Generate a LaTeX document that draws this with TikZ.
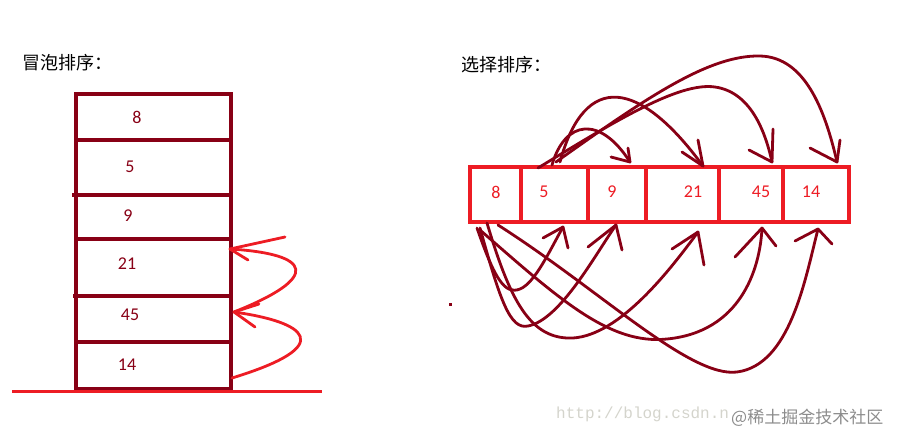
\documentclass[tikz,border=0pt]{standalone}
\usepackage{fontspec}
\setmainfont{Carlito}
\newfontfamily\cjkfont{Noto Sans CJK SC}
\newfontfamily\wmfont{Liberation Mono}
\definecolor{dred}{HTML}{880015}
\definecolor{pred}{HTML}{ED1C24}
\begin{document}
\begin{tikzpicture}[x=1pt,y=-1pt,
  stk/.style={draw=dred, line width=3.4pt},
  box/.style={draw=pred, line width=3.2pt},
  arr/.style={draw=dred, line width=2.8pt, line cap=round, line join=round},
  rarr/.style={draw=pred, line width=2.8pt, line cap=round, line join=round},
  lnum/.style={text=dred, font=\fontsize{18}{18}\selectfont, inner sep=0pt},
  rnum/.style={text=pred, font=\fontsize{18}{18}\selectfont, inner sep=0pt},
  ttl/.style={font=\cjkfont\fontsize{18}{18}\selectfont, inner sep=0pt, anchor=west},
]
\useasboundingbox (0,0) rectangle (897,436);

% ---------- Bubble sort ----------
\node[ttl] (t1) at (22,63) {冒泡排序：};
\draw[stk] (76,94) rectangle (231,389);
\draw[stk] (76,140) -- (233,140);
\draw[stk] (72,195) -- (231,195);
\draw[stk] (76,239) -- (231,239);
\draw[stk] (73,296) -- (233,296);
\draw[stk] (76,342) -- (231,342);
\draw[draw=pred, line width=3pt] (12,391) -- (322,391);

\node[lnum] (b8)  at (137,117) {8};
\node[lnum] (b5)  at (130,167) {5};
\node[lnum] (b9)  at (128,216) {9};
\node[lnum] (b21) at (127,264) {21};
\node[lnum] (b45) at (130,315) {45};
\node[lnum] (b14) at (127,365) {14};

\coordinate (l0) at (232,378);
\coordinate (l1) at (234,312);
\coordinate (l2) at (230,249);
\draw[rarr] (l0) .. controls (340,345) and (305,322) .. (l1);
\draw[rarr] (l1) -- (259,304);
\draw[rarr] (l1) -- (255,327);
\draw[rarr] (l1) .. controls (322,277) and (312,254) .. (l2);
\draw[rarr] (l2) -- (285,237);
\draw[rarr] (l2) -- (248,260);

% ---------- Selection sort ----------
\node[ttl] (t2) at (461,65) {选择排序：};
\draw[box] (470,167) rectangle (849,222);
\foreach \x in {521,588,646,719,783} \draw[box] (\x,167) -- (\x,222);

\node[rnum] (s8)  at (496,192) {8};
\node[rnum] (s5)  at (544,192) {5};
\node[rnum] (s9)  at (612,192) {9};
\node[rnum] (s21) at (693,192) {21};
\node[rnum] (s45) at (761,192) {45};
\node[rnum] (s14) at (811,192) {14};

% top arrows (from 5)
\coordinate (u9)  at (630,162);
\coordinate (u21) at (703,166);
\coordinate (u45) at (772,162);
\coordinate (u14) at (837,162);
\draw[arr] (552,165) .. controls (565,120) and (600,115) .. (u9);
\draw[arr] (u9) -- (611,157); \draw[arr] (u9) -- (628,148);
\draw[arr] (560,162) .. controls (585,70) and (640,80) .. (u21);
\draw[arr] (u21) -- (682,152); \draw[arr] (u21) -- (698,140);
\draw[arr] (538,168) .. controls (620,118) and (680,82) .. (715,87)
            .. controls (750,92) and (765,130) .. (u45);
\draw[arr] (u45) -- (749,150); \draw[arr] (u45) -- (773,129);
\draw[arr] (556,162) .. controls (650,95) and (710,55) .. (760,56)
            .. controls (805,57) and (825,110) .. (u14);
\draw[arr] (u14) -- (810,148); \draw[arr] (u14) -- (840,140);

% bottom arrows (from 8)
\coordinate (d5)  at (563,227);
\coordinate (d9)  at (616,225);
\coordinate (d21) at (698,232);
\coordinate (d45) at (762,228);
\coordinate (d14) at (818,229);
\draw[arr] (477,228) .. controls (495,280) and (505,295) .. (520,289)
            .. controls (535,283) and (550,250) .. (d5);
\draw[arr] (d5) -- (543,238); \draw[arr] (d5) -- (568,248);
\draw[arr] (480,228) .. controls (500,300) and (510,330) .. (528,326)
            .. controls (560,320) and (595,255) .. (d9);
\draw[arr] (d9) -- (588,247); \draw[arr] (d9) -- (622,250);
\draw[arr] (487,223) .. controls (510,300) and (530,340) .. (573,338)
            .. controls (620,335) and (670,270) .. (d21);
\draw[arr] (d21) -- (672,249); \draw[arr] (d21) -- (704,265);
\draw[arr] (480,230) .. controls (560,300) and (610,345) .. (667,339)
            .. controls (740,332) and (760,270) .. (d45);
\draw[arr] (d45) -- (735,257); \draw[arr] (d45) -- (776,246);
\draw[arr] (498,225) .. controls (600,290) and (690,378) .. (737,372)
            .. controls (790,365) and (805,280) .. (d14);
\draw[arr] (d14) -- (795,241); \draw[arr] (d14) -- (832,244);

\fill[dred] (449,303) rectangle (452,306);

% ---------- watermark ----------
\node[anchor=west, inner sep=0pt, text={rgb,255:red,212;green,212;blue,204},
      font=\wmfont\fontsize{16}{16}\selectfont] (wm1) at (556,414) {http://blog.csdn.n};
\node[anchor=west, inner sep=0pt, text={rgb,255:red,140;green,140;blue,140},
      font=\cjkfont\fontsize{17}{17}\selectfont] (wm2) at (731,418) {@稀土掘金技术社区};
\end{tikzpicture}
\end{document}
